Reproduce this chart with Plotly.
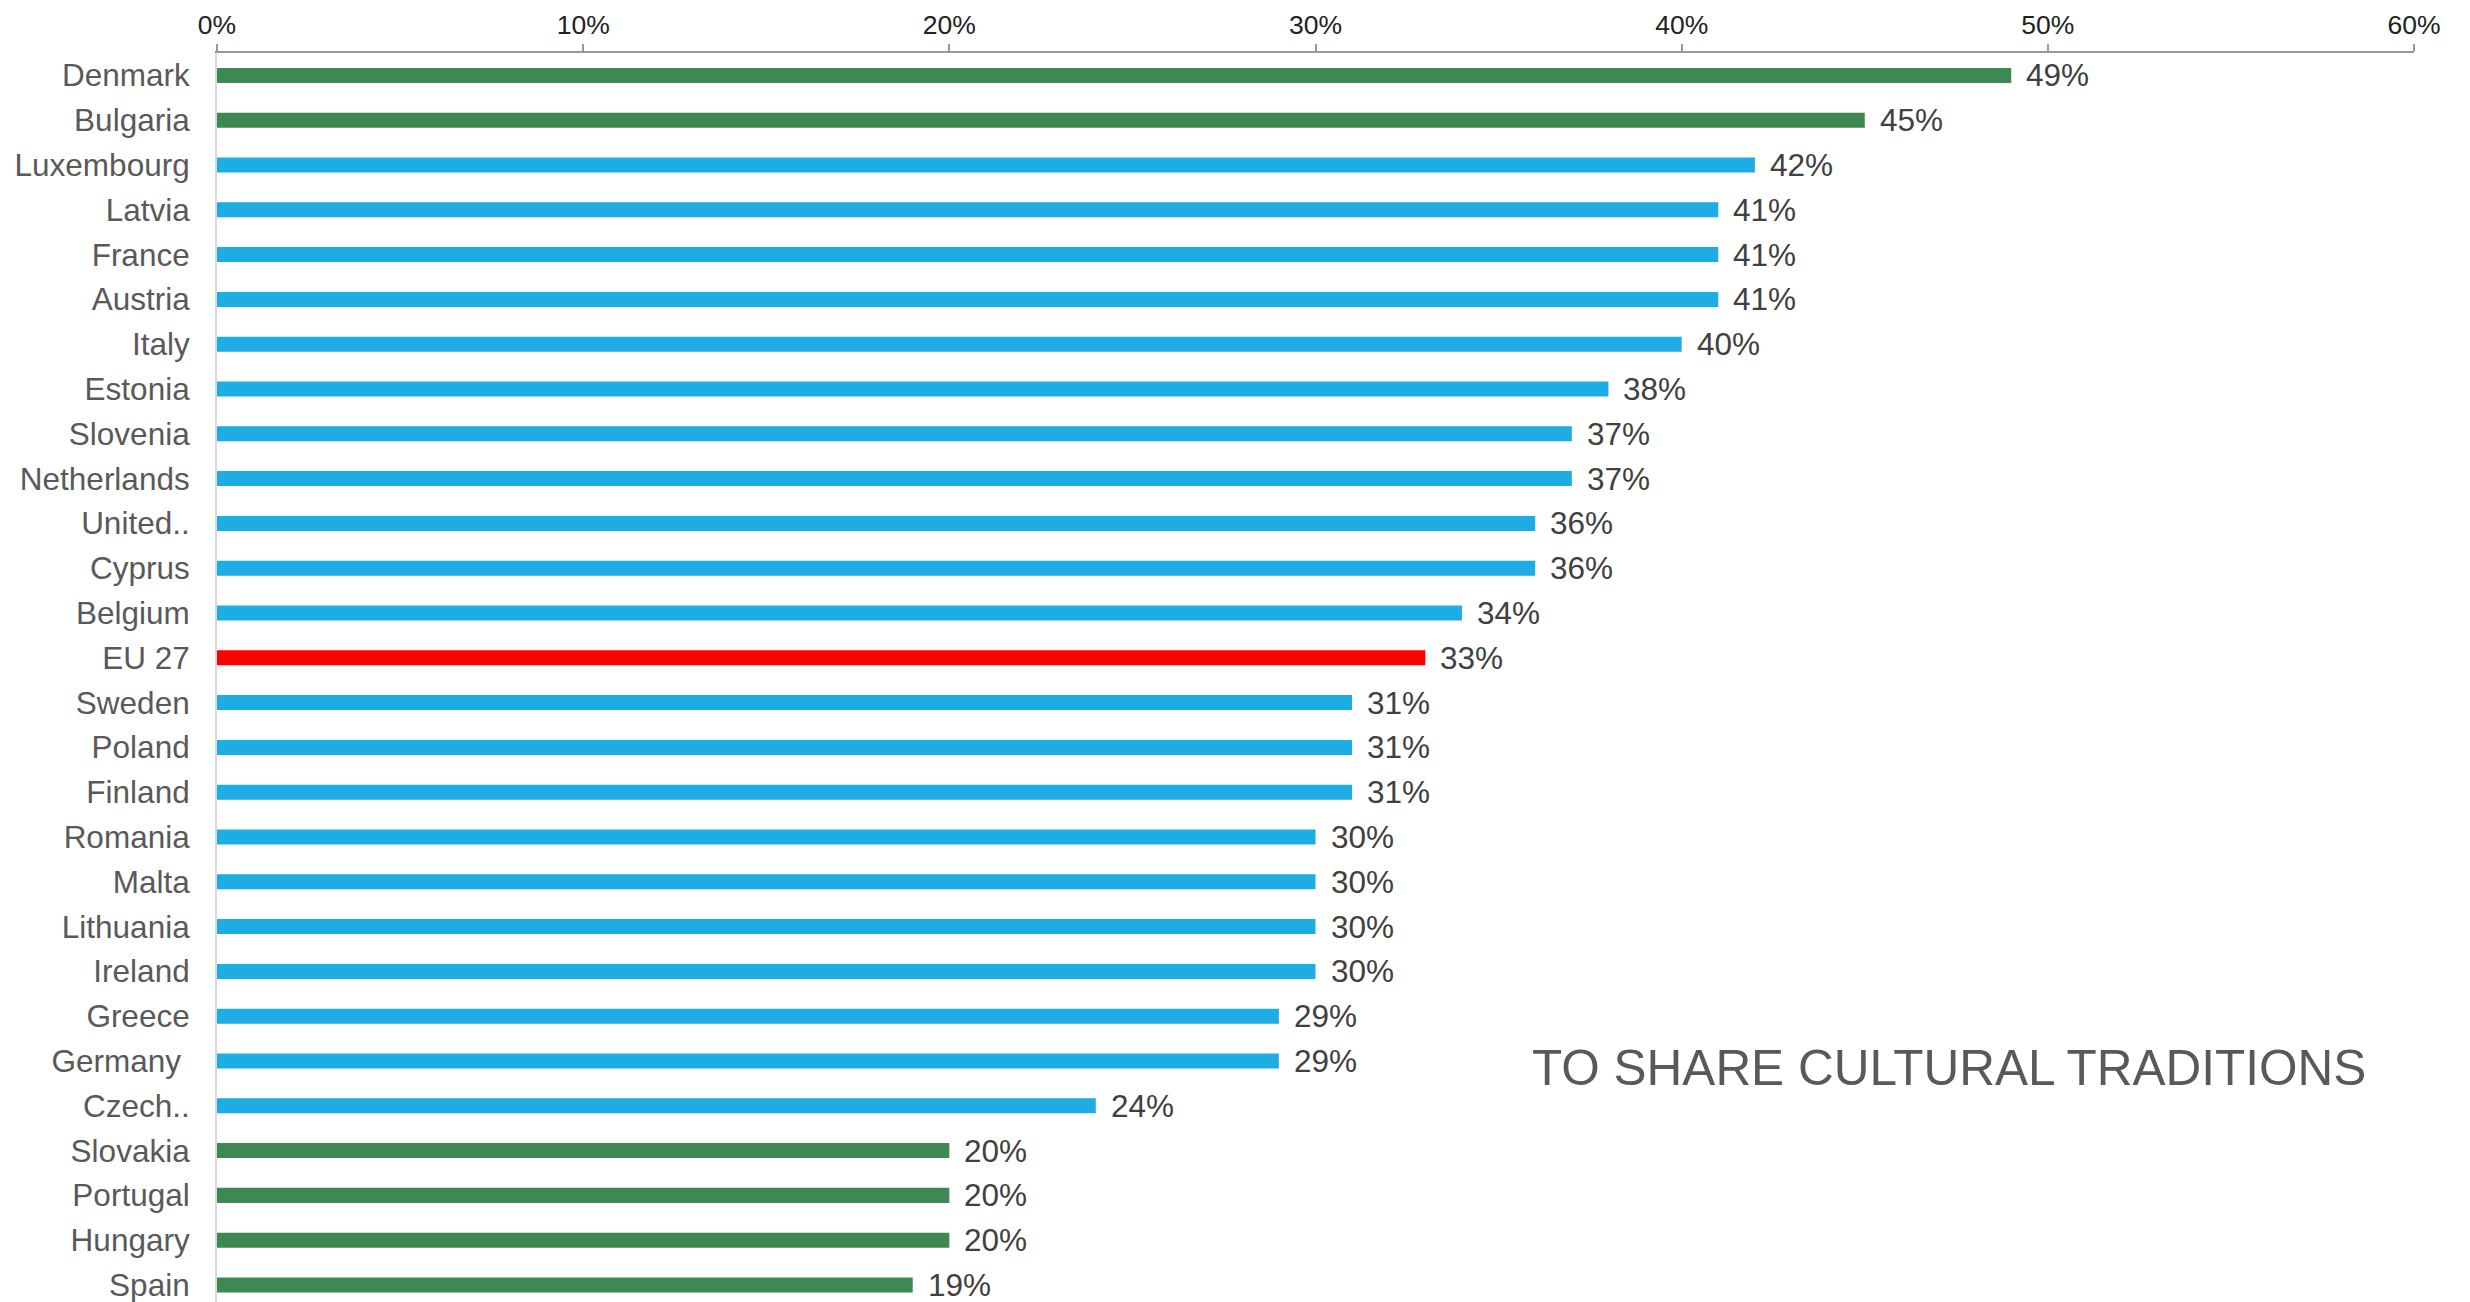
import plotly.graph_objects as go

countries = ["Denmark", "Bulgaria", "Luxembourg", "Latvia", "France", "Austria", "Italy",
             "Estonia", "Slovenia", "Netherlands", "United..", "Cyprus", "Belgium", "EU 27",
             "Sweden", "Poland", "Finland", "Romania", "Malta", "Lithuania", "Ireland",
             "Greece", "Germany ", "Czech..", "Slovakia", "Portugal", "Hungary", "Spain"]
values = [49, 45, 42, 41, 41, 41, 40, 38, 37, 37, 36, 36, 34, 33,
          31, 31, 31, 30, 30, 30, 30, 29, 29, 24, 20, 20, 20, 19]
groups = ["top", "top", "mid", "mid", "mid", "mid", "mid", "mid", "mid", "mid", "mid", "mid", "mid", "eu",
          "mid", "mid", "mid", "mid", "mid", "mid", "mid", "mid", "mid", "mid", "low", "low", "low", "low"]
x_ticks = [0, 10, 20, 30, 40, 50, 60]
x_tick_labels = ["0%", "10%", "20%", "30%", "40%", "50%", "60%"]
title_text = "TO SHARE CULTURAL TRADITIONS"

palette = {"top": "#3e8853", "low": "#3e8853", "mid": "#1eade3", "eu": "#ff0000"}
colors = [palette[g] for g in groups]

FONT = "Liberation Sans, Arial, sans-serif"

fig = go.Figure()
fig.add_trace(go.Bar(
    x=values, y=countries, orientation="h",
    marker=dict(color=colors, line=dict(width=0)),
    width=0.335, hoverinfo="skip",
))

for c, v in zip(countries, values):
    fig.add_annotation(x=v, y=c, xref="x", yref="y", text=f"{v}%",
                       showarrow=False, xanchor="left", yanchor="middle", xshift=13,
                       font=dict(family=FONT, size=31.5, color="#404040"))

fig.add_annotation(x=0.5976, y=0.188, xref="paper", yref="paper", text=title_text,
                   showarrow=False, xanchor="left", yanchor="middle",
                   font=dict(family=FONT, size=49.5, color="#595959"))

fig.update_layout(
    width=2462, height=1294,
    margin=dict(l=209, r=56, t=45, b=0, pad=0),
    paper_bgcolor="white", plot_bgcolor="white",
    showlegend=False,
    xaxis=dict(side="top", range=[0, 60], tickvals=x_ticks, ticktext=x_tick_labels,
               ticks="outside", ticklen=7, tickwidth=1.5, tickcolor="#999999",
               showline=True, linecolor="#999999", linewidth=1.5,
               showgrid=False, zeroline=False,
               tickfont=dict(family=FONT, size=26.5, color="#222222")),
    yaxis=dict(range=[27.38, -0.5], autorange=False, type="category",
               showline=True, linecolor="#d9d9d9", linewidth=2,
               ticks="", showgrid=False, zeroline=False, ticklabelstandoff=19,
               tickfont=dict(family=FONT, size=31.5, color="#595959")),
)

fig.write_html("out.html")
